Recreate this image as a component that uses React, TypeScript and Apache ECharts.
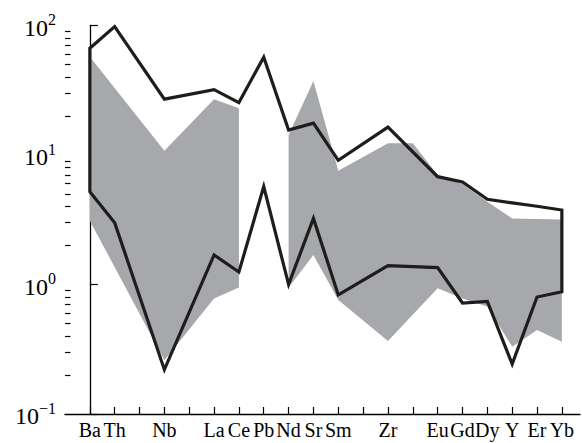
import { useEffect, useRef } from 'react';
import * as echarts from 'echarts';

// Slots along the x axis (blank slots are unlabelled elements)
const slotLabels = ['Ba', 'Th', '', 'Nb', '', 'La', 'Ce', 'Pb', 'Nd', 'Sr', 'Sm', '', 'Zr', '', 'Eu', 'Gd', 'Dy', 'Y', 'Er', 'Yb'];
const N = null;
// black outlined field: upper and lower bounds
const blackUpper = [66.7, 98, N, 27, N, 32, 25.4, 57, 15.6, 17.6, 9.1, N, 16.4, N, 6.8, 6.2, 4.55, 4.27, 4.02, 3.76];
const blackLower = [5.2, 3.0, N, 0.22, N, 1.69, 1.25, 5.7, 1.0, 3.24, 0.83, N, 1.4, N, 1.35, 0.72, 0.74, 0.243, 0.8, 0.88];
// grey field: upper and lower bounds (no Pb data)
const grayUpper = [57.4, N, N, 10.8, N, 27, 23, N, 14.3, 37.2, 7.56, N, 12.3, 12.3, 7.0, 5.97, 4.35, 3.24, 3.2, 3.18];
const grayLower = [3.11, N, N, 0.26, N, 0.78, 0.95, N, 0.95, 1.69, 0.76, N, 0.366, N, 0.935, 0.78, 0.675, 0.33, 0.446, 0.361];
const grayBlocks = [[0, 6], [8, 19]];
const majorTicks = [0.1, 1, 10, 100];
const minorTicks = [0.2, 0.3, 0.4, 0.5, 0.6, 0.7, 0.8, 0.9, 2, 3, 4, 5, 6, 7, 8, 9, 20, 30, 40, 50, 60, 70, 80, 90];

const slotIdx = slotLabels.map((_, i) => i);
const labelIdx = slotIdx.filter((i) => slotLabels[i] !== '');

function polyPoints(up: (number | null)[], lo: (number | null)[], a: number, b: number, api: any) {
  const pts: number[][] = [];
  for (let i = a; i <= b; i++) if (up[i] != null) pts.push(api.coord([i, up[i]]));
  for (let i = b; i >= a; i--) if (lo[i] != null) pts.push(api.coord([i, lo[i]]));
  return pts;
}

export default function App() {
  const ref = useRef<HTMLDivElement>(null);
  useEffect(() => {
    document.body.style.margin = '0';
    const chart = echarts.init(ref.current!, null, { renderer: 'svg' });
    const serif = 'Liberation Serif';
    chart.setOption({
      animation: false,
      backgroundColor: '#fff',
      grid: { left: 65, right: 2, top: 25.5, bottom: 29, containLabel: false, outerBoundsMode: 'none' },
      xAxis: {
        type: 'value',
        min: -1,
        max: 19.73,
        axisLine: { show: true, lineStyle: { color: '#000', width: 1.3 } },
        axisTick: { show: true, inside: true, length: 7, customValues: slotIdx, lineStyle: { color: '#000', width: 1.2 } },
        axisLabel: {
          customValues: labelIdx,
          formatter: (v: number) => slotLabels[Math.round(v)] ?? '',
          fontFamily: serif,
          fontSize: 20,
          color: '#000',
          margin: 6,
        },
        splitLine: { show: false },
      },
      yAxis: [
        {
          type: 'log',
          logBase: 10,
          min: 0.1,
          max: 100,
          axisLine: { show: true, lineStyle: { color: '#000', width: 1.3 } },
          axisTick: { show: true, inside: true, length: 8, customValues: majorTicks, lineStyle: { color: '#000', width: 1.2 } },
          axisLabel: {
            customValues: majorTicks,
            margin: 9,
            fontFamily: serif,
            formatter: (v: number) => {
              const e = Math.round(Math.log10(v));
              return '{b|10}{s|' + (e < 0 ? '\u2212' + -e : String(e)) + '}';
            },
            rich: {
              b: { fontFamily: serif, fontSize: 24, color: '#000', padding: [4, 0, 0, 0] },
              s: { fontFamily: serif, fontSize: 16, color: '#000', padding: [0, 0, 12, 0] },
            },
          },
          splitLine: { show: false },
        },
        {
          type: 'log',
          logBase: 10,
          min: 0.1,
          max: 100,
          position: 'left',
          axisLine: { show: false },
          axisTick: { show: true, inside: true, length: 5.5, customValues: minorTicks, lineStyle: { color: '#000', width: 1.2 } },
          axisLabel: { show: false },
          splitLine: { show: false },
        },
      ],
      series: [
        {
          type: 'custom',
          clip: false,
          data: grayBlocks.map((b) => [b[0], 1]),
          renderItem: (params: any, api: any) => {
            const [a, b] = grayBlocks[params.dataIndex];
            return {
              type: 'polygon',
              shape: { points: polyPoints(grayUpper, grayLower, a, b, api) },
              style: { fill: '#a7a8ab', stroke: 'none' },
            };
          },
        },
        {
          type: 'custom',
          clip: false,
          data: [[0, 1]],
          renderItem: (_params: any, api: any) => ({
            type: 'polygon',
            shape: { points: polyPoints(blackUpper, blackLower, 0, slotLabels.length - 1, api) },
            style: { fill: 'none', stroke: '#1d1d1b', lineWidth: 3.2, lineJoin: 'miter' },
          }),
        },
      ],
    });
    return () => chart.dispose();
  }, []);
  return <div ref={ref} style={{ width: 582, height: 443 }} />;
}
